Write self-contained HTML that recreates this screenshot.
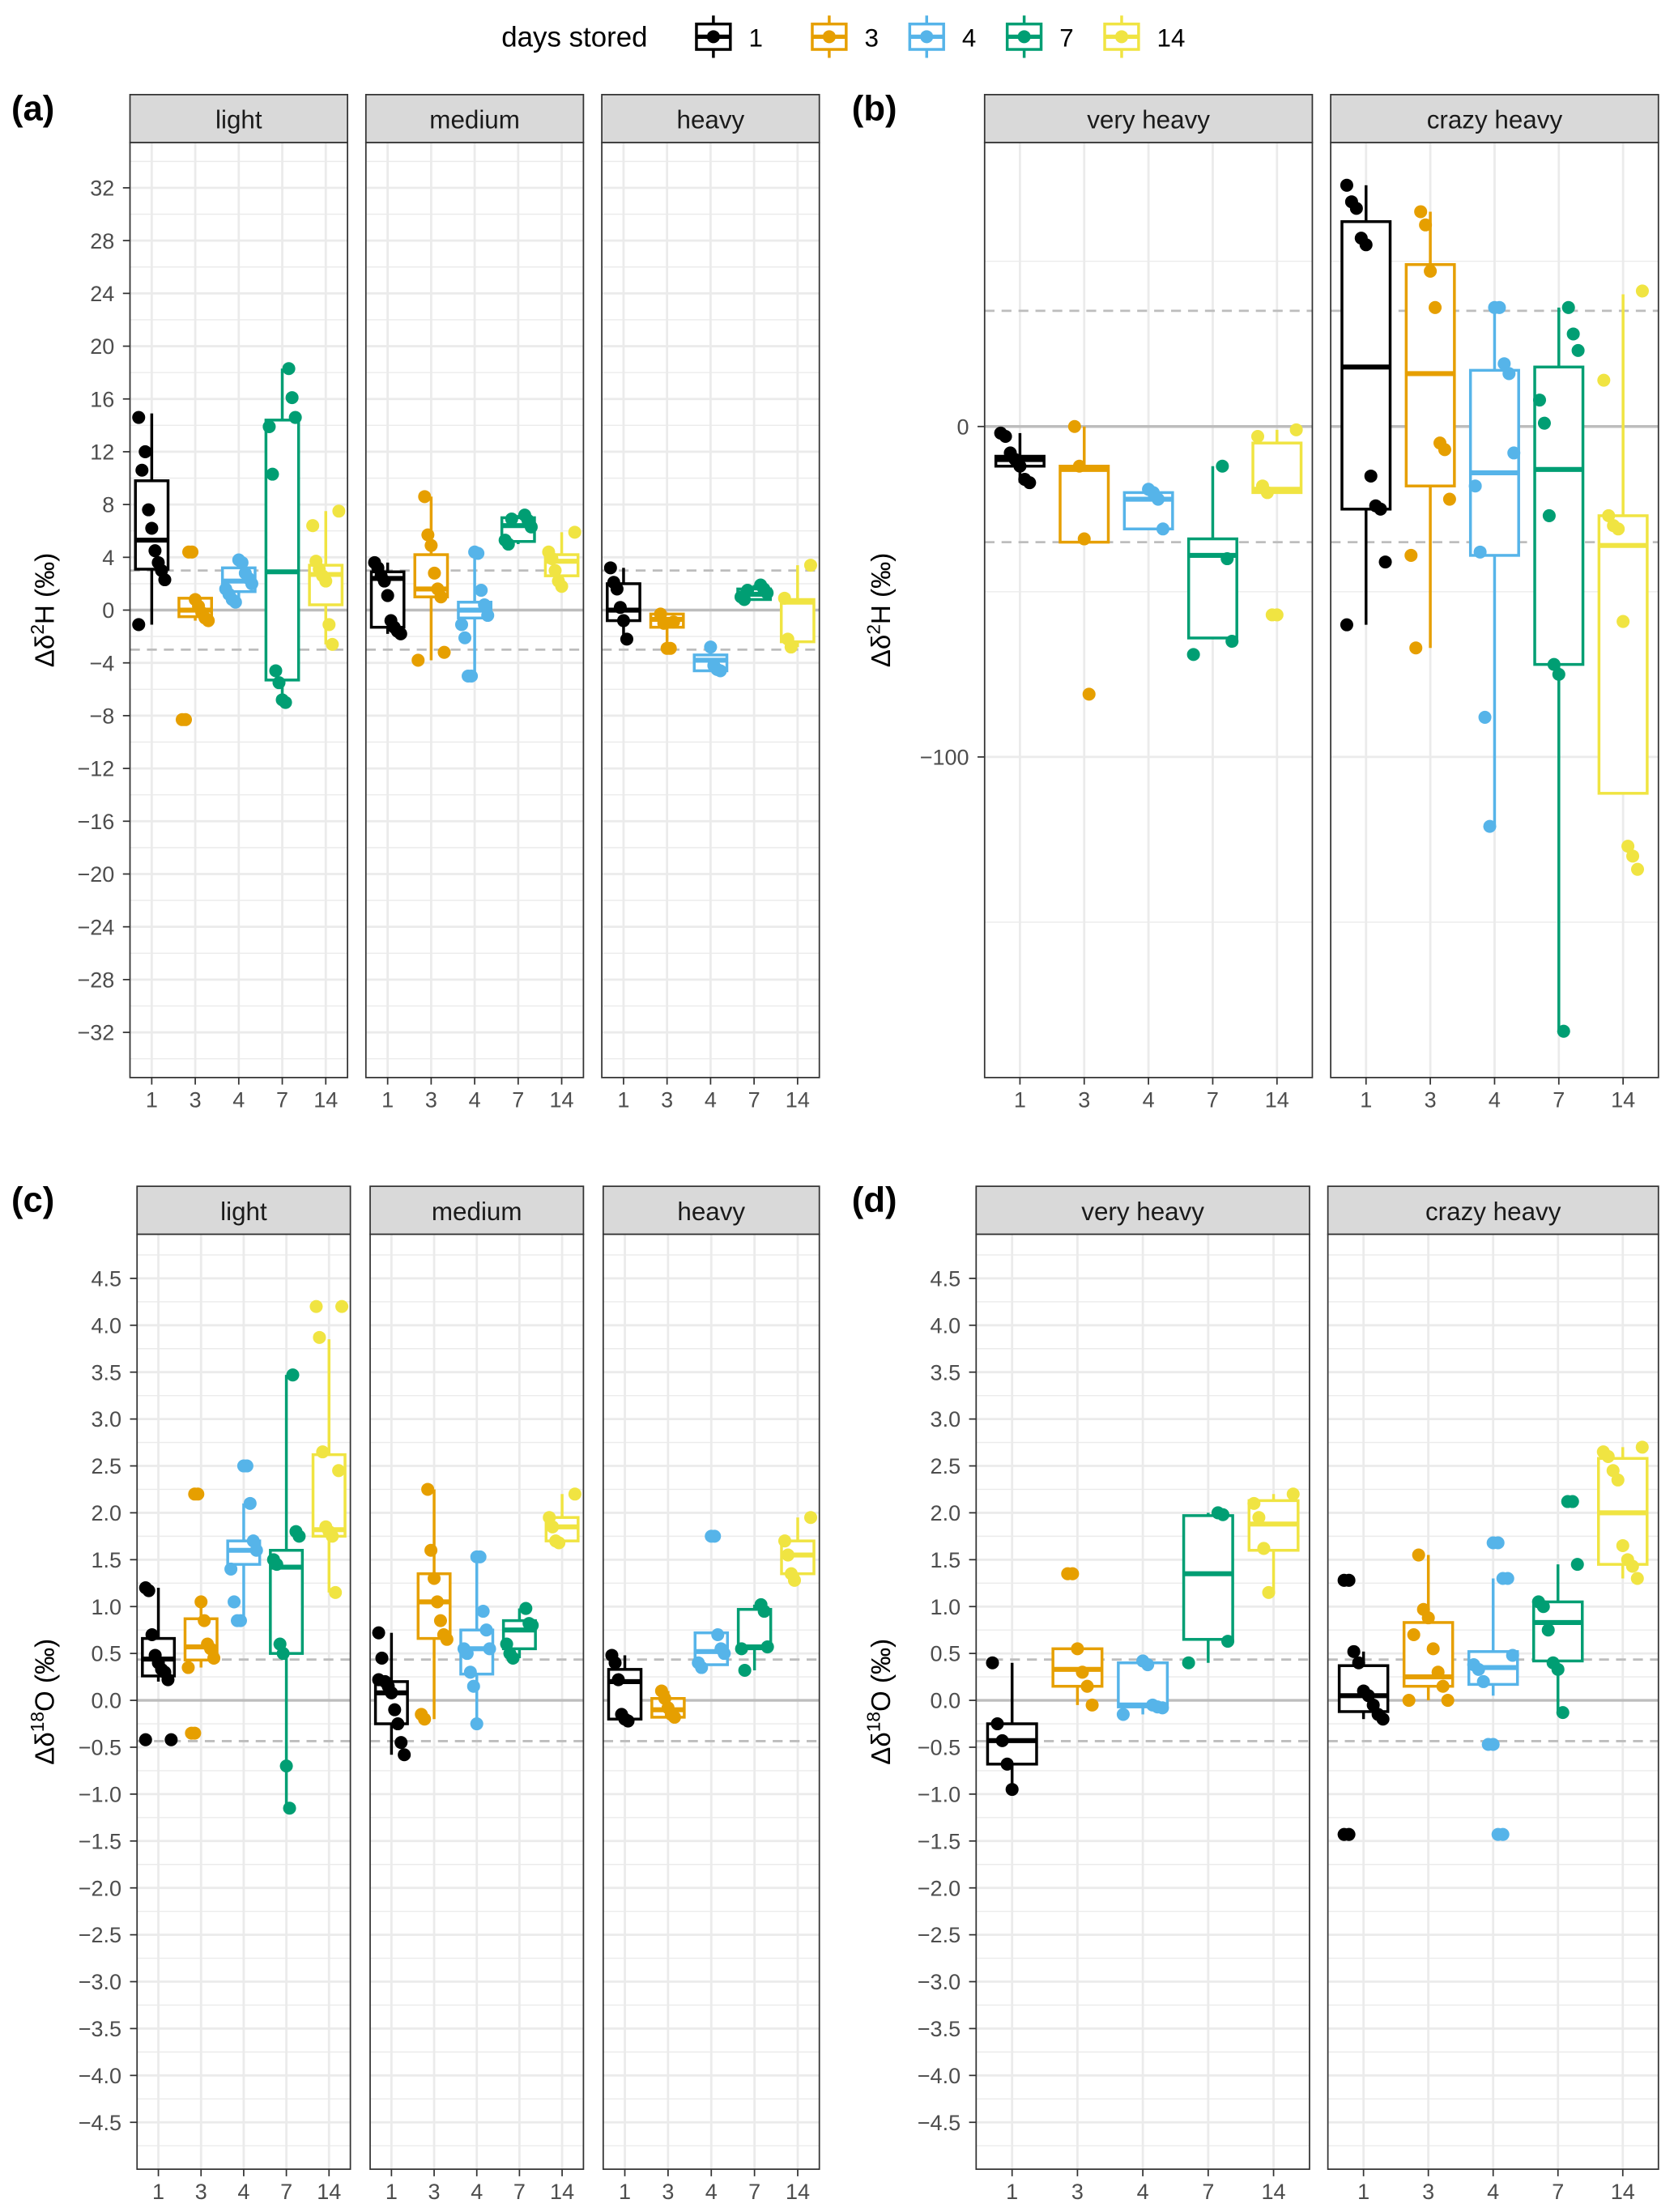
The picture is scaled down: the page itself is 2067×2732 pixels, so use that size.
<!DOCTYPE html>
<html><head><meta charset="utf-8"><style>
html,body{margin:0;padding:0;background:#fff;}
svg{display:block;font-family:"Liberation Sans",sans-serif;}
</style></head><body>
<svg id="chart" width="2067" height="2732" viewBox="0 0 1185 1566.3" xmlns="http://www.w3.org/2000/svg"></svg>
<script>
// ===== data =====
const categories = ["1","3","4","7","14"];
const colors = ["#000000","#E69F00","#56B4E9","#009E73","#F0E442"];
// boxes: [lowWhisker, q1, median, q3, highWhisker]
const aLightBox = [[-1.1,3.1,5.3,9.8,14.9],[-0.8,-0.5,0,0.9,0.9],[0.6,1.4,2.2,3.2,3.8],[-7,-5.3,2.9,14.4,18.3],[-2.6,0.4,2.7,3.4,7.5]];
const aLightPts = [[14.6,10.6,12,7.6,6.2,4.5,3.6,3,2.3,-1.1],[4.4,4.4,0.8,0.3,-0.2,-0.6,-0.8,-8.3,-8.3],[3.8,3.6,2.8,2.4,2,1.6,1.2,0.8,0.6],[18.3,16.1,14.6,13.9,10.3,-4.6,-5.5,-6.8,-7],[7.5,6.4,3.7,3.1,2.6,2.2,-1.1,-2.6]];
const aMediumBox = [[-1.8,-1.3,2.4,2.9,3.6],[-3.8,1,1.6,4.2,8.6],[-5,-0.6,0,0.6,4.4],[5,5.2,6.4,7,7.2],[1.8,2.6,3.7,4.2,5.9]];
const aMediumPts = [[3.6,3.2,2.6,2.2,1.1,-0.8,-1.3,-1.6,-1.8],[8.6,5.7,4.9,2.8,1.6,1,-3.2,-3.8],[4.4,4.3,1.5,0.4,-0.4,-1.1,-2.1,-5,-5],[7.2,6.8,6.3,5.3,5,6.9],[5.9,4.4,3.9,3,2.2,1.8]];
const aHeavyBox = [[-2.2,-0.8,0,2,3.2],[-2.9,-1.3,-0.7,-0.3,-0.2],[-4.6,-4.6,-3.8,-3.4,-2.8],[0.8,0.8,1.2,1.6,1.9],[-2.8,-2.4,0.6,0.8,3.4]];
const aHeavyPts = [[3.2,2.1,1.6,0.2,-0.8,-2.2],[-0.3,-1,-2.9,-2.9,-0.9],[-2.8,-4.2,-4.5,-4.6],[1.9,1.6,1.3,1,0.8,1.5],[3.4,0.9,-2.2,-2.8]];
const bVeryBox = [[-17,-12,-10,-9,-2],[-35,-35,-13,-12,0],[-31,-31,-22,-20,-19],[-64,-64,-39,-34,-12],[-20,-20,-19,-5,-1]];
const bVeryPts = [[-2,-3,-8,-10,-12,-16,-17],[0,-12,-34,-81],[-19,-20,-22,-31],[-12,-40,-65,-69],[-1,-3,-18,-20,-57,-57]];
const bCrazyBox = [[-60,-25,18,62,73],[-67,-18,16,49,65],[-121,-39,-14,17,36],[-183,-72,-13,18,36],[-111,-111,-36,-27,40]];
const bCrazyPts = [[73,68,66,57,55,-15,-24,-25,-41,-60],[65,61,47,36,-5,-7,-22,-39,-67],[36,36,19,16,-8,-18,-38,-88,-121],[36,28,23,8,1,-27,-72,-75,-183],[41,14,-27,-30,-31,-59,-127,-130,-134]];
const cLightBox = [[0.2,0.26,0.44,0.66,1.2],[0.35,0.43,0.57,0.87,1.05],[0.85,1.45,1.6,1.7,2.1],[-1.15,0.5,1.42,1.6,3.47],[1.15,1.75,1.82,2.62,3.85]];
const cLightPts = [[1.2,1.17,0.7,0.48,0.4,0.33,0.3,0.22,-0.42,-0.42],[2.2,2.2,1.05,0.85,0.6,0.55,0.45,0.35,-0.35,-0.35],[2.5,2.5,2.1,1.7,1.6,1.4,1.05,0.85,0.85],[3.47,1.8,1.75,1.5,1.45,0.6,0.5,-0.7,-1.15],[4.2,4.2,3.87,2.65,1.85,1.8,1.75,1.15,2.45]];
const cMediumBox = [[-0.58,-0.25,0.08,0.2,0.72],[-0.2,0.66,1.05,1.35,2.25],[-0.25,0.28,0.55,0.75,1.53],[0.45,0.55,0.75,0.85,0.98],[1.65,1.7,1.85,1.95,2.2]];
const cMediumPts = [[0.72,0.45,0.2,0.15,0.08,-0.1,-0.25,-0.45,-0.58,0.22],[2.25,1.6,1.3,1.05,0.85,0.7,0.65,-0.15,-0.2],[1.53,1.53,0.95,0.75,0.55,0.55,0.5,0.3,0.15,-0.25],[0.98,0.82,0.8,0.6,0.5,0.45],[2.2,1.95,1.85,1.7,1.68]];
const cHeavyBox = [[-0.22,-0.2,0.2,0.33,0.48],[-0.18,-0.18,-0.1,0.02,0.1],[0.38,0.38,0.52,0.72,0.72],[0.32,0.55,0.57,0.97,1.02],[1.28,1.35,1.55,1.7,1.95]];
const cHeavyPts = [[0.48,0.4,0.22,-0.15,-0.2,-0.22],[0.1,0.02,-0.08,-0.15,-0.18],[1.75,1.75,0.7,0.55,0.5,0.4,0.35],[1.02,0.95,0.57,0.55,0.32],[1.95,1.7,1.55,1.35,1.28]];
const dVeryBox = [[-0.95,-0.68,-0.43,-0.25,0.4],[-0.05,0.15,0.33,0.55,0.55],[-0.15,-0.07,-0.05,0.4,0.42],[0.4,0.65,1.35,1.97,2],[1.15,1.6,1.88,2.13,2.2]];
const dVeryPts = [[0.4,-0.25,-0.43,-0.68,-0.95],[1.35,1.35,0.55,0.3,0.15,-0.05],[0.42,0.38,-0.05,-0.07,-0.08,-0.15],[2,1.98,0.63,0.4],[2.2,2.1,1.95,1.62,1.15]];
const dCrazyBox = [[-0.2,-0.12,0.05,0.37,0.52],[0,0.15,0.25,0.83,1.55],[0.05,0.17,0.35,0.52,1.3],[-0.13,0.42,0.83,1.05,1.45],[1.3,1.45,2,2.58,2.7]];
const dCrazyPts = [[1.28,1.28,0.52,0.4,0.1,0.05,-0.05,-0.15,-0.2,-1.43,-1.43],[1.55,0.97,0.88,0.55,0.3,0.15,0,0,0.7],[1.68,1.68,1.3,1.3,0.48,0.38,0.33,0.2,-0.47,-0.47,-1.43,-1.43],[2.12,2.12,1.45,1.05,1,0.75,0.4,0.33,-0.13],[2.7,2.65,2.6,2.45,2.35,1.65,1.5,1.43,1.3]];
const aTicks = [32,28,24,20,16,12,8,4,0,-4,-8,-12,-16,-20,-24,-28,-32];
const bTicks = [0,-100];
const cTicks = [4.5,4,3.5,3,2.5,2,1.5,1,0.5,0,-0.5,-1,-1.5,-2,-2.5,-3,-3.5,-4,-4.5];

// ===== drawing =====
const NS="http://www.w3.org/2000/svg";
const svg=document.getElementById('chart');
function el(tag,attrs,parent,text){const e=document.createElementNS(NS,tag);for(const k in attrs)e.setAttribute(k,attrs[k]);if(text!==undefined)e.textContent=text;(parent||svg).appendChild(e);return e;}
function fmt(v,dec){return (v<0?"\u2212":"")+Math.abs(v).toFixed(dec);}

function panel(p){
  const g=el('g',{});
  
  
  const y=v=>p.y0 - (v - p.v0)*p.k;
  // panel letter
  const lt=el('text',{x:p.letterX,y:p.top-0+18,'font-size':25,'font-weight':'bold',fill:'#000'},g,p.letter);
  
  
  // y title
  const yt=el('text',{transform:`translate(${p.titleX},${(p.top+34+p.bottom)/2}) rotate(-90)`,'text-anchor':'middle','font-size':19,fill:'#000'},g);
  
  
  el('tspan',{},yt,"\u0394\u03b4");
  el('tspan',{'font-size':13,dy:-7},yt,p.sup);
  el('tspan',{'font-size':19,dy:7},yt,p.elem+" (\u2030)");
  // y tick labels
  p.ticks.forEach(t=>{
    const tl=el('text',{x:p.facets[0].x0-11,y:y(t)+5.5,'text-anchor':'end','font-size':15.5,fill:'#4d4d4d'},g,fmt(t,p.dec));
    
    
    el('line',{x1:p.facets[0].x0-5,x2:p.facets[0].x0,y1:y(t),y2:y(t),stroke:'#333','stroke-width':1},g);
  });
  p.facets.forEach(f=>{
    const fg=el('g',{},g);
    
    
    const x0=f.x0,x1=f.x1,top=p.top+34,bot=p.bottom;
    const w=x1-x0, step=(w)/(5+ (p.expand*2-1)), cx=i=>x0+step*p.expand+i*step;
    // strip
    el('rect',{x:x0,y:p.top,width:w,height:34,fill:'#d9d9d9',stroke:'#333','stroke-width':1},fg);
    const st=el('text',{x:(x0+x1)/2,y:p.top+24,'text-anchor':'middle','font-size':18,fill:'#1a1a1a'},fg,f.label);
    
    
    el('rect',{x:x0,y:top,width:w,height:bot-top,fill:'#fff'},fg);
    // grid
    p.minor.forEach(t=>{if(y(t)>top&&y(t)<bot)el('line',{x1:x0,x2:x1,y1:y(t),y2:y(t),stroke:'#ebebeb','stroke-width':0.8},fg);});
    p.ticks.forEach(t=>el('line',{x1:x0,x2:x1,y1:y(t),y2:y(t),stroke:'#ebebeb','stroke-width':1.6},fg));
    categories.forEach((c,i)=>{
      el('line',{x1:cx(i),x2:cx(i),y1:top,y2:bot,stroke:'#ebebeb','stroke-width':1.6},fg);
      el('line',{x1:cx(i),x2:cx(i),y1:bot,y2:bot+5,stroke:'#333','stroke-width':1},fg);
      const xl=el('text',{x:cx(i),y:bot+21,'text-anchor':'middle','font-size':15.5,fill:'#4d4d4d'},fg,c);
      
      
    });
    // reference lines
    el('line',{x1:x0,x2:x1,y1:y(0),y2:y(0),stroke:'#bdbdbd','stroke-width':2},fg);
    [p.ref,-p.ref].forEach(r=>el('line',{x1:x0,x2:x1,y1:y(r),y2:y(r),stroke:'#bdbdbd','stroke-width':1.6,'stroke-dasharray':'7 5'},fg));
    // boxes
    const bw=step*0.75;
    f.box.forEach((b,i)=>{
      const bg=el('g',{stroke:colors[i],'stroke-width':2,fill:'none'},fg);
      
      
      el('line',{x1:cx(i),x2:cx(i),y1:y(b[0]),y2:y(b[1])},bg);
      el('line',{x1:cx(i),x2:cx(i),y1:y(b[3]),y2:y(b[4])},bg);
      el('rect',{x:cx(i)-bw/2,y:y(b[3]),width:bw,height:Math.max(0.5,y(b[1])-y(b[3])),fill:'#fff'},bg);
      el('line',{x1:cx(i)-bw/2,x2:cx(i)+bw/2,y1:y(b[2]),y2:y(b[2]),'stroke-width':3.5},bg);
    });
    f.pts.forEach((arr,i)=>{
      arr.forEach((v,j)=>{
        const jit=(((j*37+i*11)%9)-4)/4*step*0.3;
        const c=el('circle',{cx:cx(i)+jit,cy:y(v),r:4.6,fill:colors[i]},fg);
        
        
      });
    });
    el('rect',{x:x0,y:top,width:w,height:bot-top,fill:'none',stroke:'#333','stroke-width':1},fg);
  });
}
function range(a,b,s){const r=[];for(let v=a;v<=b+1e-9;v+=s)r.push(+v.toFixed(4));return r;}

panel({name:'panel-a',letter:'(a)',letterX:8,top:67,bottom:763,titleX:38,sup:'2',elem:'H',y0:432,v0:0,k:9.344,ticks:aTicks,minor:range(-34,34,2),dec:0,ref:3,expand:0.5,
  facets:[{label:'light',x0:92,x1:246,box:aLightBox,pts:aLightPts},{label:'medium',x0:259,x1:413,box:aMediumBox,pts:aMediumPts},{label:'heavy',x0:426,x1:580,box:aHeavyBox,pts:aHeavyPts}]});
panel({name:'panel-b',letter:'(b)',letterX:603,top:67,bottom:763,titleX:630,sup:'2',elem:'H',y0:302,v0:0,k:2.34,ticks:bTicks,minor:range(-250,100,50),dec:0,ref:35,expand:0.55,
  facets:[{label:'very heavy',x0:697,x1:929,box:bVeryBox,pts:bVeryPts},{label:'crazy heavy',x0:942,x1:1174,box:bCrazyBox,pts:bCrazyPts}]});
panel({name:'panel-c',letter:'(c)',letterX:8,top:840,bottom:1536,titleX:38,sup:'18',elem:'O',y0:1204,v0:0,k:66.4,ticks:cTicks,minor:range(-4.75,4.75,0.25),dec:1,ref:0.435,expand:0.5,
  facets:[{label:'light',x0:97,x1:248,box:cLightBox,pts:cLightPts},{label:'medium',x0:262,x1:413,box:cMediumBox,pts:cMediumPts},{label:'heavy',x0:427,x1:580,box:cHeavyBox,pts:cHeavyPts}]});
panel({name:'panel-d',letter:'(d)',letterX:603,top:840,bottom:1536,titleX:630,sup:'18',elem:'O',y0:1204,v0:0,k:66.4,ticks:cTicks,minor:range(-4.75,4.75,0.25),dec:1,ref:0.435,expand:0.55,
  facets:[{label:'very heavy',x0:691,x1:927,box:dVeryBox,pts:dVeryPts},{label:'crazy heavy',x0:940,x1:1174,box:dCrazyBox,pts:dCrazyPts}]});

// legend
const lg=el('g',{});


const lt=el('text',{x:355,y:33,'font-size':20,fill:'#000'},lg,'days stored');


const keyX=[490,572,641,710,779];
categories.forEach((c,i)=>{
  const kg=el('g',{},lg);
  
  
  const x=keyX[i], cx=x+15;
  el('line',{x1:cx,x2:cx,y1:11,y2:41,stroke:colors[i],'stroke-width':2},kg);
  el('rect',{x:x+3,y:17,width:24,height:18,fill:'#fff',stroke:colors[i],'stroke-width':2},kg);
  el('line',{x1:x+3,x2:x+27,y1:26,y2:26,stroke:colors[i],'stroke-width':3},kg);
  el('circle',{cx:cx,cy:26,r:4.6,fill:colors[i]},kg);
  el('text',{x:x+40,y:33,'font-size':18,fill:'#000'},kg,c);
});
</script>
</body></html>
